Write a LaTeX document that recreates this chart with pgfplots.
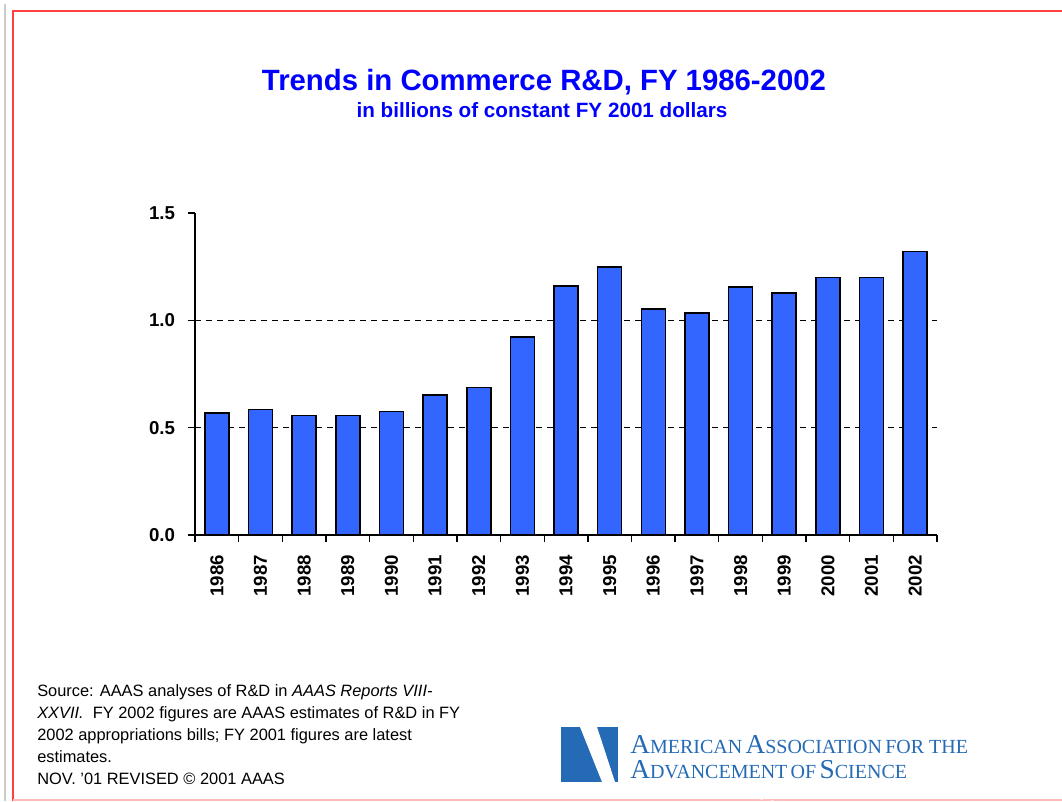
\documentclass[border=0pt]{standalone}
\usepackage{fontspec}
\setmainfont{Liberation Sans}
\newfontfamily\seriffont{Liberation Serif}
\usepackage{pgfplots}
\pgfplotsset{compat=1.18}
\definecolor{barblue}{RGB}{51,102,255}
\definecolor{titleblue}{RGB}{0,0,255}
\definecolor{logoblue}{RGB}{36,106,180}
\definecolor{framered}{RGB}{255,64,64}
% pixel position (from top left of the 1062x801 reference) to pt
\newcommand{\px}[2]{({#1*0.75pt},{(801-#2)*0.75pt})}
% fake small caps for the logo
\newcommand{\fsc}[2]{{\fontsize{20.5}{20.5}\selectfont #1}{\fontsize{15}{15}\selectfont #2}}

\begin{document}
\begin{tikzpicture}
\path[use as bounding box] (0,0) rectangle (796.5pt,600.75pt);
% frame
\draw[gray!40, line width=1.5pt] \px{5}{4} -- \px{5}{801};
\draw[framered, line width=1.5pt] \px{13}{801} -- \px{13}{11} -- \px{1062}{11};
\draw[framered!35, line width=1pt] \px{13}{800} -- \px{1062}{800};

% titles
\node[anchor=base, inner sep=0, text=titleblue, font=\fontsize{22}{22}\selectfont\bfseries]
  at \px{544}{91} {Trends in Commerce R\&D, FY 1986-2002};
\node[anchor=base, inner sep=0, text=titleblue, font=\fontsize{15.5}{15.5}\selectfont\bfseries]
  at \px{542}{118} {in billions of constant FY 2001 dollars};

\begin{axis}[
  at={(146.25pt,199.5pt)}, anchor=south west,
  scale only axis, width=556.5pt, height=241.5pt,
  xmin=-0.5, xmax=16.5, ymin=0, ymax=1.5,
  axis x line*=bottom, axis y line*=left,
  axis line style={line width=1.3pt},
  ybar, bar width=18pt,
  tick align=outside,
  xtick={0,...,16},
  xticklabels={1986,1987,1988,1989,1990,1991,1992,1993,1994,1995,1996,1997,1998,1999,2000,2001,2002},
  major x tick style={draw=none},
  minor xtick={-0.5,0.5,...,16.5},
  minor tick length=5pt,
  minor x tick style={line width=1pt, black},
  ytick={0,0.5,1,1.5},
  yticklabels={0.0,0.5,1.0,1.5},
  major tick length=5.5pt,
  major y tick style={line width=1pt, black},
  extra y ticks={0.5,1},
  extra y tick labels={},
  extra y tick style={grid=major, major tick length=0pt},
  grid style={black, line width=1.1pt, dash pattern=on 4.5pt off 3.75pt},
  /pgf/number format/assume math mode=true,
  xticklabel style={rotate=90, anchor=east, xshift=-6pt, font=\fontsize{14}{14}\selectfont\bfseries},
  yticklabel style={xshift=-6pt, font=\fontsize{14}{14}\selectfont\bfseries},
]
\addplot[fill=barblue, draw=black, line width=1.2pt] coordinates {
  (0,0.567) (1,0.585) (2,0.557) (3,0.557) (4,0.576) (5,0.651) (6,0.688)
  (7,0.922) (8,1.161) (9,1.248) (10,1.053) (11,1.034) (12,1.154)
  (13,1.126) (14,1.200) (15,1.200) (16,1.321)
};
\end{axis}

% source note (anchored at the baseline of its last line)
\node[anchor=base west, inner sep=0, align=left, font=\fontsize{12.3}{16.5}\selectfont]
  at \px{37}{784} {Source: AAAS analyses of R\&D in \textit{AAAS Reports VIII-}\\
  \textit{XXVII.}\ \ FY 2002 figures are AAAS estimates of R\&D in FY\\
  2002 appropriations bills; FY 2001 figures are latest\\
  estimates.\\
  NOV. '01 REVISED © 2001 AAAS};

% logo
\fill[logoblue] \px{561}{727} rectangle \px{618}{782};
\fill[white] \px{580}{727} -- \px{597}{727} -- \px{615}{782} -- \px{602}{782} -- cycle;
\foreach \k in {0,...,7}
  \draw[white, line width=0.5pt] \px{566+2*\k}{782-6*\k} -- \px{574+2*\k}{776-6*\k};
\node[anchor=base west, inner sep=0, text=logoblue, font=\seriffont]
  at \px{630}{753} {\fsc{A}{MERICAN} \fsc{A}{SSOCIATION} \fsc{}{FOR THE}};
\node[anchor=base west, inner sep=0, text=logoblue, font=\seriffont]
  at \px{630}{778} {\fsc{A}{DVANCEMENT} \fsc{}{OF} \fsc{S}{CIENCE}};
\end{tikzpicture}
\end{document}
